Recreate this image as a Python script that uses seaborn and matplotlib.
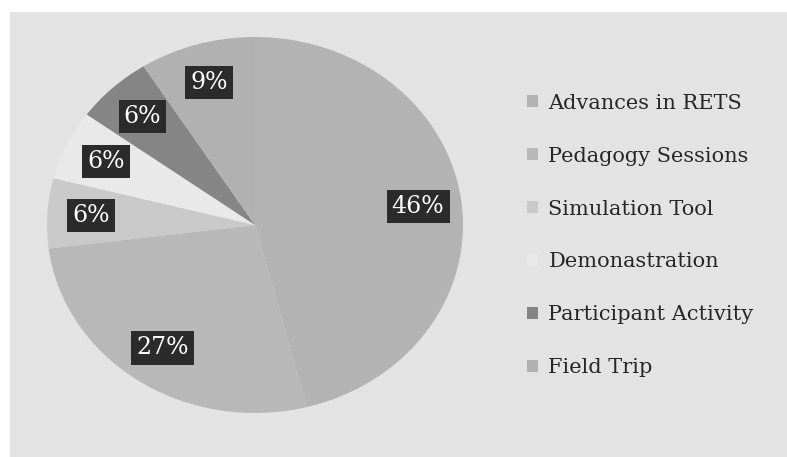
import matplotlib
matplotlib.use("Agg")
import matplotlib.pyplot as plt
import seaborn as sns
from matplotlib.patches import Rectangle

# data
sessions = ['Advances in RETS', 'Pedagogy Sessions', 'Simulation Tool',
            'Demonastration', 'Participant Activity', 'Field Trip']
shares = [46, 27, 6, 6, 6, 9]
grays = ['#b3b3b3', '#b8b8b8', '#c9c9c9', '#e9e9e9', '#858585', '#b1b1b1']

sns.set_theme(style='white')
plt.rcParams['font.family'] = ['DejaVu Serif']

fig = plt.figure(figsize=(7.87, 4.57), dpi=100)
fig.patch.set_facecolor('white')
# scanned chart area
fig.add_artist(Rectangle((10 / 787, 0.0), 1.0, 1 - 12 / 457,
                         transform=fig.transFigure, facecolor='#e3e3e3',
                         edgecolor='none', zorder=-10))

# the scanned pie is slightly elliptical, so keep aspect free
ax = fig.add_axes([47 / 787, 44 / 457, 416 / 787, 376 / 457])
wedges, texts, autotexts = ax.pie(
    shares, colors=grays, startangle=90, counterclock=False,
    autopct='%1.0f%%', pctdistance=0.79,
    wedgeprops=dict(linewidth=0),
    textprops=dict(color='white', fontsize=17))
ax.set_aspect('auto')
ax.set_xlim(-1, 1)
ax.set_ylim(-1, 1)
for t in autotexts:
    t.set_bbox(dict(boxstyle='square,pad=0.22', facecolor='#2b2b2b',
                    edgecolor='none'))

leg = fig.legend(wedges, sessions, loc='upper left',
                 bbox_to_anchor=(512 / 787, 1 - 79 / 457),
                 frameon=False, fontsize=15, labelspacing=1.63,
                 handlelength=0.55, handleheight=0.55, handletextpad=0.5,
                 borderpad=0.2, labelcolor='#262626')

fig.savefig('out.png', dpi=100, facecolor=fig.get_facecolor())
